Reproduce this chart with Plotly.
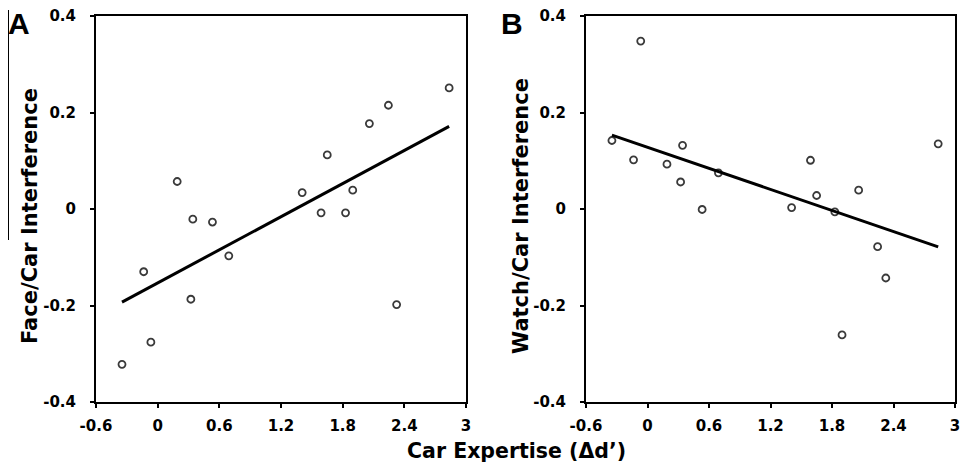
import numpy as np
import plotly.graph_objects as go

# Car expertise (Δd') per subject
car_expertise = [-0.347, -0.136, -0.066, 0.19, 0.323, 0.342, 0.533, 0.692, 1.406,
                 1.59, 1.65, 1.828, 1.898, 2.06, 2.245, 2.325, 2.836]
# Panel A: Face/Car interference
face_car = [-0.322, -0.130, -0.276, 0.057, -0.187, -0.021, -0.027, -0.097, 0.034,
            -0.008, 0.112, -0.008, 0.039, 0.177, 0.215, -0.198, 0.251]
# Panel B: Watch/Car interference
watch_car = [0.142, 0.102, 0.348, 0.093, 0.056, 0.132, -0.001, 0.075, 0.003,
             0.101, 0.028, -0.006, -0.261, 0.039, -0.078, -0.143, 0.135]

x_ticks = [-0.6, 0, 0.6, 1.2, 1.8, 2.4, 3]
x_tick_text = ["-0.6", "0", "0.6", "1.2", "1.8", "2.4", "3"]
y_ticks = [-0.4, -0.2, 0, 0.2, 0.4]
y_tick_text = ["-0.4", "-0.2", "0", "0.2", "0.4"]

FONT = "DejaVu Sans"

W, H = 961, 470


def px(x):
    return x / W


def py(y):
    return (H - y) / H


fig = go.Figure()

panels = [
    ("x", "y", face_car),
    ("x2", "y2", watch_car),
]

for xa, ya, yvals in panels:
    fig.add_trace(go.Scatter(
        x=car_expertise, y=yvals, mode="markers", xaxis=xa, yaxis=ya,
        marker=dict(symbol="circle-open", size=7, color="#3a3a3a",
                    line=dict(width=1.8, color="#3a3a3a")),
        showlegend=False, hoverinfo="skip", cliponaxis=False))
    slope, intercept = np.polyfit(car_expertise, yvals, 1)
    xf = [min(car_expertise), max(car_expertise)]
    yf = [slope * v + intercept for v in xf]
    fig.add_trace(go.Scatter(
        x=xf, y=yf, mode="lines", xaxis=xa, yaxis=ya,
        line=dict(color="black", width=3), showlegend=False, hoverinfo="skip"))

ydom = [py(402), py(16)]
axis_common = dict(showline=True, linecolor="black", linewidth=2, mirror=True,
                   ticks="outside", ticklen=4, tickwidth=2, tickcolor="black",
                   showgrid=False, zeroline=False, automargin=False,
                   tickfont=dict(family=FONT, size=15, color="black", weight="bold"))

fig.update_layout(
    width=W, height=H, margin=dict(l=0, r=0, t=0, b=0, autoexpand=False),
    plot_bgcolor="white", paper_bgcolor="white",
    font=dict(family=FONT, color="black"),
    xaxis=dict(domain=[px(96), px(466)], range=[-0.6, 3], tickvals=x_ticks,
               ticktext=x_tick_text, anchor="y", ticklabelstandoff=5, **axis_common),
    yaxis=dict(domain=ydom, range=[-0.4, 0.4], tickvals=y_ticks,
               ticktext=y_tick_text, anchor="x", ticklabelstandoff=11, **axis_common),
    xaxis2=dict(domain=[px(586), px(955)], range=[-0.6, 3], tickvals=x_ticks,
                ticktext=x_tick_text, anchor="y2", ticklabelstandoff=5, **axis_common),
    yaxis2=dict(domain=ydom, range=[-0.4, 0.4], tickvals=y_ticks,
                ticktext=y_tick_text, anchor="x2", ticklabelstandoff=11, **axis_common),
)

annotations = [
    dict(text="Face/Car Interference", x=px(30), y=py(216), textangle=-90, size=21),
    dict(text="Watch/Car Interference", x=px(521), y=py(216), textangle=-90, size=21),
    dict(text="Car Expertise (Δd’)", x=px(516), y=py(451), textangle=0, size=20.5),
]
for a in annotations:
    size = a.pop("size")
    fig.add_annotation(xref="paper", yref="paper", showarrow=False,
                       xanchor="center", yanchor="middle",
                       font=dict(family=FONT, size=size, color="black", weight="bold"),
                       **a)

for label, xp in [("A", 19), ("B", 512)]:
    fig.add_annotation(text=label, xref="paper", yref="paper", x=px(xp),
                       y=py(23), showarrow=False, xanchor="center",
                       yanchor="middle",
                       font=dict(family="Liberation Sans", size=30, color="black",
                                 weight="bold"))

# thin vertical rule at far left (present in the original figure)
fig.add_shape(type="line", xref="paper", yref="paper", x0=px(8.5), x1=px(8.5),
              y0=py(240), y1=py(10),
              line=dict(color="black", width=1))

# remove the browser's default 8px body margin so the figure fills the window
fig.write_html("out.html",
               config={"displayModeBar": False, "staticPlot": True},
               post_script="document.body.style.margin='0';"
                           "document.body.style.overflow='hidden';")
